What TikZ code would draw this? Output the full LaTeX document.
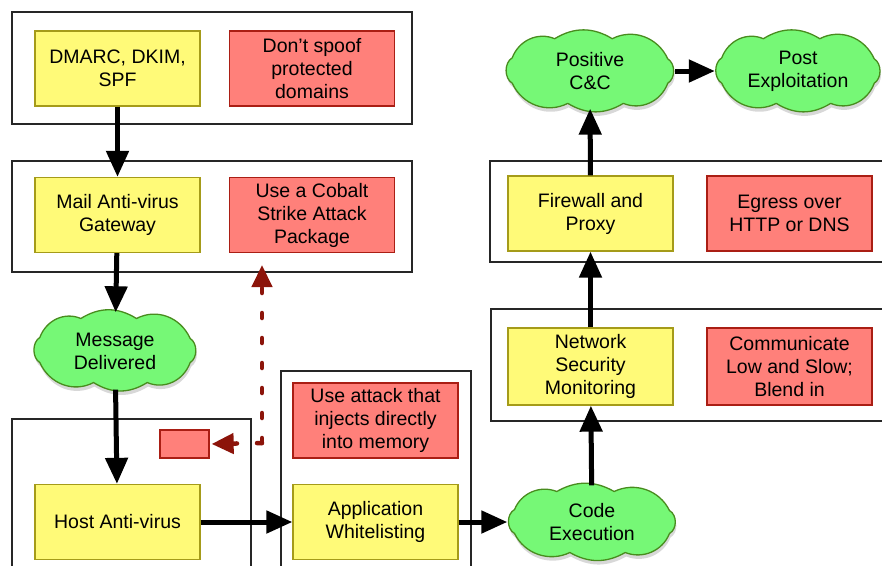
\documentclass[tikz,border=0pt]{standalone}
\usepackage{fontspec}
\setmainfont{Liberation Sans}
\usetikzlibrary{shapes.geometric,shadows,arrows.meta}
\definecolor{yfill}{RGB}{255,250,120}
\definecolor{yline}{RGB}{165,155,25}
\definecolor{rfill}{RGB}{255,128,122}
\definecolor{rline}{RGB}{170,30,20}
\definecolor{gfill}{RGB}{118,248,118}
\definecolor{gline}{RGB}{72,140,30}
\definecolor{darkred}{RGB}{140,20,10}
% cloud outline: #1 centre, #2 xscale, #3 yscale
\newcommand{\cloudoutline}[3]{%
  \path[cloudline, shift={#1}, xscale=#2, yscale=#3]
    (-77,-12) to[bend left=45] (-35,-30) to[bend left=30] (22,-30)
    to[bend left=45] (77,-11) to[bend left=60] (77,12)
    to[bend left=45] (33,31) to[bend left=30] (-22,31)
    to[bend left=45] (-77,12) to[bend left=60] cycle;}
\begin{document}
\begin{tikzpicture}[x=1pt,y=-1pt,
  lbl/.style={font=\fontsize{19.5}{23}\selectfont, align=center, text=black},
  box/.style={lbl, draw, line width=1.3pt, inner sep=0pt, minimum width=165pt, minimum height=75pt},
  ybox/.style={box, fill=yfill, draw=yline},
  rbox/.style={box, fill=rfill, draw=rline},
  frame/.style={draw=black!85, line width=1.5pt, inner sep=0pt},
  cloudline/.style={draw=gline, fill=gfill, line width=1.3pt, line join=round,
     drop shadow={shadow xshift=1pt, shadow yshift=-4pt, opacity=0.3}},
  cloudn/.style={lbl, ellipse, inner sep=0pt},
  flow/.style={line width=5pt, -{Triangle[length=26pt,width=22pt]}},
  redflow/.style={draw=darkred, line width=4.5pt, line cap=round, dash pattern=on 5pt off 20pt,
     -{Triangle[length=22pt,width=20pt]}}]
\clip (0,0) rectangle (882,565);
\fill[white] (0,0) rectangle (882,565);
% frames
\node[frame, minimum width=400pt, minimum height=112pt] (f1) at (212,68) {};
\node[frame, minimum width=400pt, minimum height=111pt] (f2) at (212,216.5) {};
\node[frame, minimum width=239pt, minimum height=161pt] (f3) at (131.5,499.5) {};
\node[frame, minimum width=190pt, minimum height=209pt] (f4) at (376,475.5) {};
\node[frame, minimum width=409pt, minimum height=112pt] (f5) at (695.5,365) {};
\node[frame, minimum width=410pt, minimum height=101pt] (f6) at (695,211.5) {};
% boxes
\node[ybox] (dmarc) at (117.5,68.5) {DMARC, DKIM,\\SPF};
\node[rbox] (spoof) at (312,68.5) {Don't spoof\\protected\\domains};
\node[ybox] (mail) at (117.5,215) {Mail Anti-virus\\Gateway};
\node[rbox] (cobalt) at (312,215) {Use a Cobalt\\Strike Attack\\Package};
\node[ybox] (host) at (117.5,522) {Host Anti-virus};
\node[rbox, minimum width=49pt, minimum height=28pt] (small) at (184.5,444) {};
\node[rbox] (inject) at (375.5,420.5) {Use attack that\\injects directly\\into memory};
\node[ybox] (app) at (375.5,522) {Application\\Whitelisting};
\node[ybox, minimum height=77pt] (nsm) at (590.5,366.5) {Network\\Security\\Monitoring};
\node[rbox, minimum height=77pt] (comm) at (789.5,366.5) {Communicate\\Low and Slow;\\Blend in};
\node[ybox] (fw) at (590.5,213.5) {Firewall and\\Proxy};
\node[rbox] (egress) at (789.5,213.5) {Egress over\\HTTP or DNS};
% clouds
\cloudoutline{(115,350)}{0.976}{1.05}
\cloudoutline{(592,521.5)}{1.006}{1.0}
\cloudoutline{(590,70.5)}{1.01}{1.06}
\cloudoutline{(798,70.5)}{0.99}{1.06}
\node[cloudn, minimum width=164pt, minimum height=77pt] (msg) at (115,351) {Message\\Delivered};
\node[cloudn, minimum width=169pt, minimum height=73pt] (code) at (592,522) {Code\\Execution};
\node[cloudn, minimum width=170pt, minimum height=75pt] (cc) at (590,71) {Positive\\C\&C};
\node[cloudn, minimum width=166pt, minimum height=75pt] (post) at (798,71) {Post\\Exploitation};
% flows
\draw[flow] (dmarc) -- (mail);
\draw[flow] (mail) -- (msg);
\draw[flow] (msg) -- (host);
\draw[flow] (host) -- (app);
\draw[flow] (app) -- (code);
\draw[flow] (code) -- (nsm);
\draw[flow] (nsm) -- (fw);
\draw[flow] (fw) -- (cc);
\draw[flow] (cc) -- (post);
% red dotted
\coordinate (rc) at (262,443);
\coordinate (rtop) at (262,265);
\draw[redflow] (rc) -- (rtop);
\draw[redflow, shorten >=2pt] (rc) -- (small.east);
\end{tikzpicture}
\end{document}
